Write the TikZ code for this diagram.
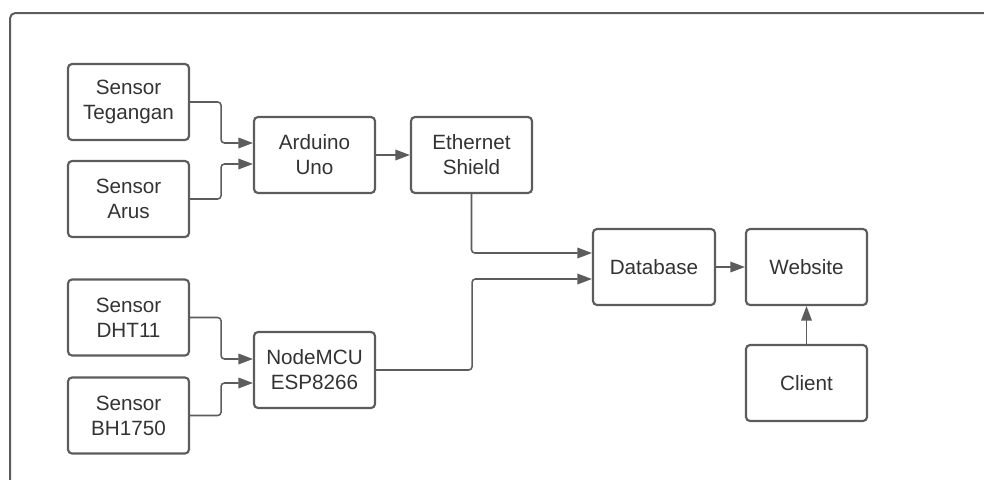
\documentclass[tikz,border=0pt]{standalone}
\usepackage{fontspec}
\setmainfont{Liberation Sans}
\usetikzlibrary{calc,arrows.meta}
\definecolor{linegray}{HTML}{5C5C5C}
\definecolor{textgray}{HTML}{333333}
\tikzset{
  box/.style={draw=linegray, line width=1.6pt, rounded corners=3pt, minimum width=90.75pt, minimum height=57pt, inner sep=0pt, align=center, text=textgray, font=\fontsize{15.5pt}{18.75pt}\selectfont},
  conn/.style={draw=linegray, line width=1.15pt, rounded corners=2.5pt, -{Triangle[length=11pt,width=8pt]}},
  frame/.style={draw=linegray, line width=1.5pt, rounded corners=4pt}
}
\begin{document}
\begin{tikzpicture}[x=0.75pt,y=-0.75pt]
\useasboundingbox (0,0) rectangle (984,479);
\begin{scope}
\clip (0,0) rectangle (984,479);
\draw[frame] (10,13) rectangle (1100,600);
\end{scope}
\node[box] (teg) at (128.5,102) {Sensor\\Tegangan};
\node[box] (arus) at (128.5,199) {Sensor\\Arus};
\node[box] (ard) at (314.5,155) {Arduino\\Uno};
\node[box] (eth) at (471.5,155) {Ethernet\\Shield};
\node[box, minimum width=91.5pt] (db) at (654,267) {Database};
\node[box] (web) at (806.5,267) {Website};
\node[box] (cli) at (806.5,383) {Client};
\node[box] (dht) at (128.5,317.5) {Sensor\\DHT11};
\node[box] (bh) at (128.5,415.5) {Sensor\\BH1750};
\node[box] (mcu) at (314.5,370) {NodeMCU\\ESP8266};
\draw[conn] (teg.east) -- ++(31,0) |- ($(ard.west)+(0,-12)$);
\draw[conn] (arus.east) -- ++(31,0) |- ($(ard.west)+(0,9)$);
\draw[conn] (ard.east) -- (eth.west);
\draw[conn] (eth.south) |- ($(db.west)+(0,-14)$);
\draw[conn] (mcu.east) -- ++(96,0) |- ($(db.west)+(0,12)$);
\draw[conn] (dht.east) -- ++(31,0) |- ($(mcu.west)+(0,-11)$);
\draw[conn] (bh.east) -- ++(31,0) |- ($(mcu.west)+(0,13)$);
\draw[conn] (db.east) -- (web.west);
\draw[conn] (cli.north) -- (web.south);
\end{tikzpicture}
\end{document}
